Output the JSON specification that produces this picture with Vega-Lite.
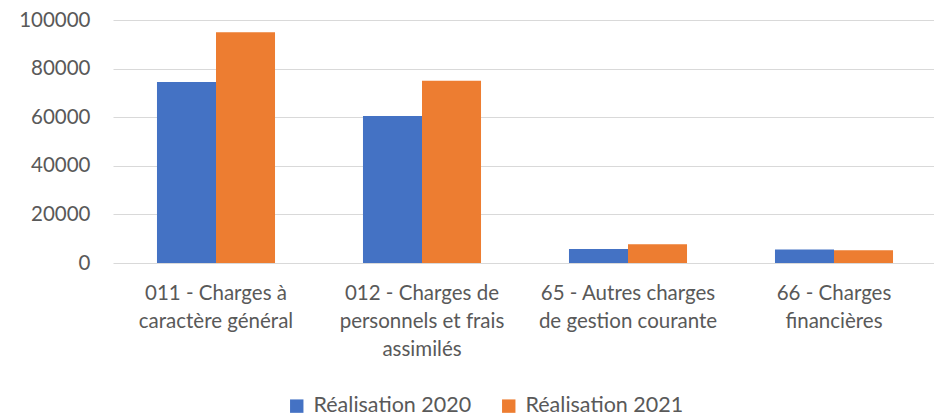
{
  "$schema": "https://vega.github.io/schema/vega-lite/v6.json",
  "width": 824,
  "height": 243,
  "autosize": {"type": "none"},
  "padding": {"left": 113, "top": 20, "right": 0, "bottom": 153},
  "background": "white",
  "config": {
    "font": "Lato",
    "view": {"stroke": null},
    "axis": {"labelFont": "Lato", "labelColor": "#595959", "labelFontSize": 20.5}
  },
  "data": {
    "values": [
      {"categorie": "011 - Charges à caractère général", "serie": "Réalisation 2020", "montant": 74500},
      {"categorie": "011 - Charges à caractère général", "serie": "Réalisation 2021", "montant": 95000},
      {"categorie": "012 - Charges de personnels et frais assimilés", "serie": "Réalisation 2020", "montant": 60500},
      {"categorie": "012 - Charges de personnels et frais assimilés", "serie": "Réalisation 2021", "montant": 75000},
      {"categorie": "65 - Autres charges de gestion courante", "serie": "Réalisation 2020", "montant": 5800},
      {"categorie": "65 - Autres charges de gestion courante", "serie": "Réalisation 2021", "montant": 7700},
      {"categorie": "66 - Charges financières", "serie": "Réalisation 2020", "montant": 5600},
      {"categorie": "66 - Charges financières", "serie": "Réalisation 2021", "montant": 5200}
    ]
  },
  "mark": {"type": "bar"},
  "encoding": {
    "x": {
      "field": "categorie",
      "type": "nominal",
      "sort": null,
      "scale": {"paddingInner": 0.427, "paddingOuter": 0.2135},
      "axis": {
        "title": null,
        "labelAngle": 0,
        "ticks": false,
        "domain": false,
        "labelPadding": 20,
        "labelBaseline": "top",
        "labelLineHeight": 28,
        "labelLimit": 300,
        "labelExpr": "datum.value == '011 - Charges à caractère général' ? ['011 - Charges à', 'caractère général'] : datum.value == '012 - Charges de personnels et frais assimilés' ? ['012 - Charges de', 'personnels et frais', 'assimilés'] : datum.value == '65 - Autres charges de gestion courante' ? ['65 - Autres charges', 'de gestion courante'] : ['66 - Charges', 'financières']"
      }
    },
    "xOffset": {"field": "serie", "type": "nominal"},
    "y": {
      "field": "montant",
      "type": "quantitative",
      "scale": {"domain": [0, 100000], "nice": false},
      "axis": {
        "title": null,
        "values": [0, 20000, 40000, 60000, 80000, 100000],
        "format": "d",
        "ticks": false,
        "domain": false,
        "labelPadding": 23,
        "gridColor": "#d9d9d9",
        "gridWidth": 1
      }
    },
    "color": {
      "field": "serie",
      "type": "nominal",
      "scale": {"range": ["#4472C4", "#ED7D31"]},
      "legend": {
        "title": null,
        "orient": "none",
        "direction": "horizontal",
        "legendX": 173,
        "legendY": 375,
        "symbolType": "square",
        "symbolSize": 180,
        "symbolStrokeWidth": 0,
        "labelFontSize": 21.5,
        "labelColor": "#595959",
        "labelFont": "Lato",
        "columnPadding": 26,
        "labelOffset": 6
      }
    }
  }
}
